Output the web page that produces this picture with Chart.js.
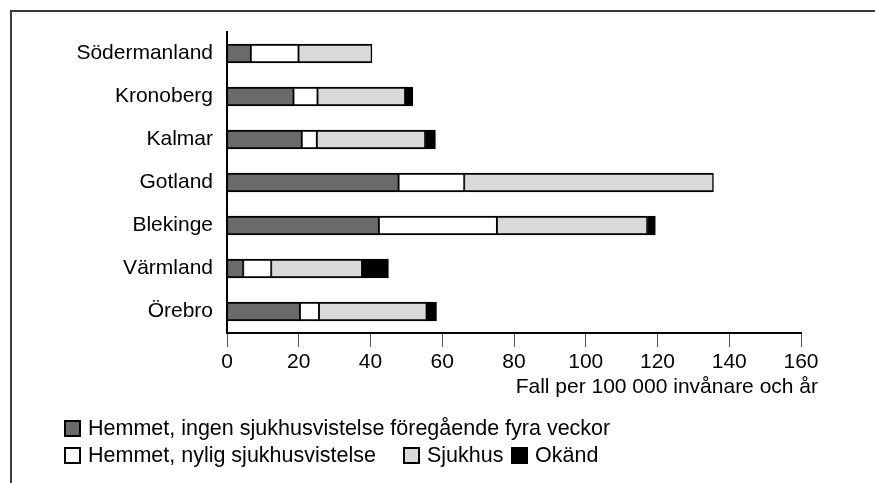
<!DOCTYPE html>
<html><head><meta charset="utf-8">
<script src="https://cdn.jsdelivr.net/npm/chart.js@4/dist/chart.umd.min.js"></script>
<style>
html,body{margin:0;padding:0;background:#fff;}
#wrap{position:relative;width:875px;height:483px;overflow:hidden;font-family:"Liberation Sans",Arial,sans-serif;}
#frame{position:absolute;left:10px;top:10px;width:880px;height:490px;border-top:2px solid #3a3a3a;border-left:2px solid #3a3a3a;}
canvas{position:absolute;left:0;top:0;}
.lg{position:absolute;font-size:21.5px;line-height:24px;color:#000;display:flex;align-items:center;white-space:nowrap;}
.sw{width:13px;height:13px;border:2px solid #000;margin-right:7px;}
</style></head><body>
<div id="wrap"><div id="frame"></div><canvas id="c" width="875" height="483"></canvas><div id="legend"></div></div>
<script>
// ---- data ----
const categories = ["Södermanland","Kronoberg","Kalmar","Gotland","Blekinge","Värmland","Örebro"];
const seriesNames = ["Hemmet, ingen sjukhusvistelse föregående fyra veckor","Hemmet, nylig sjukhusvistelse","Sjukhus","Okänd"];
const hemmetIngen = [6.7, 18.6, 20.9, 47.9, 42.4, 4.6, 20.4];
const hemmetNylig = [13.3, 6.7, 4.2, 18.3, 32.9, 7.8, 5.3];
const sjukhus     = [20.4, 24.4, 30.2, 69.4, 41.9, 25.3, 30.0];
const okand       = [0, 2.1, 2.8, 0, 2.2, 7.3, 2.7];
const xTicks = [0,20,40,60,80,100,120,140,160];
const xTitle = "Fall per 100 000 invånare och år";

// ---- style ----
const seriesColors = ["#6a6a6a","#ffffff","#d9d9d9","#000000"];
const FONT = "'Liberation Sans', Arial, sans-serif";
const legendLayout = [{left:64,top:416},{left:64,top:443},{left:403,top:443},{left:511,top:443}];

const seriesData = [hemmetIngen, hemmetNylig, sjukhus, okand];

const titlePlugin = {
  id:'xTitle',
  afterDraw(chart){
    const c = chart.ctx, xs = chart.scales.x;
    c.save();
    c.font = "21px " + FONT;
    c.fillStyle = "#000";
    c.textAlign = "right";
    c.textBaseline = "middle";
    c.fillText(xTitle, xs.right + 17, xs.bottom + 13);
    c.restore();
  }
};

new Chart(document.getElementById('c').getContext('2d'), {
  type:'bar',
  data:{
    labels:categories,
    datasets: seriesNames.map((n,i)=>({
      label:n, data:seriesData[i], backgroundColor:seriesColors[i],
      borderColor:'#000', borderWidth:{top:2,bottom:2,left:1,right:1.5},
      borderSkipped:false, barThickness:19
    }))
  },
  options:{
    indexAxis:'y', responsive:false, animation:false, devicePixelRatio:1,
    layout:{padding:{top:32,left:0,right:74,bottom:109}},
    plugins:{legend:{display:false}, tooltip:{enabled:false}},
    scales:{
      x:{
        stacked:true, min:0, max:160,
        afterBuildTicks(s){ s.ticks = xTicks.map(v=>({value:v})); },
        ticks:{color:'#000', font:{size:21, family:FONT}, padding:3, maxRotation:0},
        grid:{drawOnChartArea:false, tickLength:14, color:'#555', lineWidth:1},
        border:{color:'#000', width:2},
        afterFit(s){ s.height = 41; }
      },
      y:{
        stacked:true,
        ticks:{color:'#000', font:{size:21, family:FONT}, padding:6},
        grid:{display:false},
        border:{color:'#000', width:2},
        afterFit(s){ s.width = 227; }
      }
    }
  },
  plugins:[titlePlugin]
});

// ---- legend (HTML, from the series arrays) ----
const lg = document.getElementById('legend');
seriesNames.forEach((n,i)=>{
  const d = document.createElement('div');
  d.className='lg';
  d.style.left = legendLayout[i].left+'px';
  d.style.top = legendLayout[i].top+'px';
  const sw = document.createElement('span');
  sw.className='sw'; sw.style.background = seriesColors[i];
  const t = document.createElement('span'); t.textContent = n;
  d.appendChild(sw); d.appendChild(t);
  lg.appendChild(d);
});
</script>
</body></html>
